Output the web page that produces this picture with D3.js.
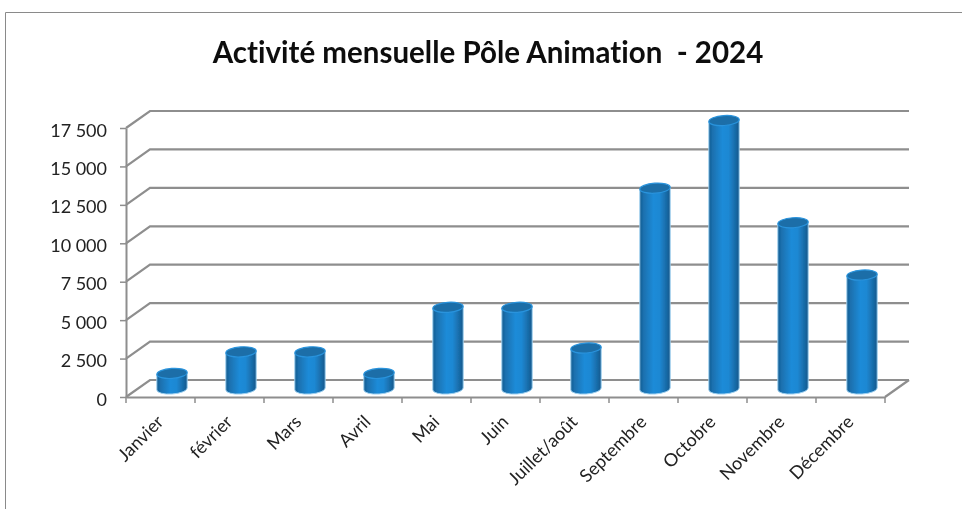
<!DOCTYPE html>
<html>
<head>
<meta charset="utf-8">
<script src="https://cdn.jsdelivr.net/npm/d3@7"></script>
<style>
  body { margin: 0; background: #fff; }
  svg { display: block; font-family: Lato, "Open Sans", sans-serif; font-variant-ligatures: none; }
  text { fill: #222; }
</style>
</head>
<body>
<svg id="chart" width="962" height="509"></svg>
<script>
var months = ["Janvier", "février", "Mars", "Avril", "Mai", "Juin", "Juillet/août", "Septembre", "Octobre", "Novembre", "Décembre"];
var activity = [950, 2350, 2350, 950, 5250, 5250, 2600, 13000, 17400, 10750, 7350];
var yTicks = [0, 2500, 5000, 7500, 10000, 12500, 15000, 17500];
var titleText = "Activité mensuelle Pôle Animation  - 2024";

var svg = d3.select("#chart");

// depth of the fake 3d box
var depthX = 24;
var depthY = -17;
var gridColor = "#8e8e8e";

var x = d3.scaleBand().domain(months).range([126, 885]);
var y = d3.scaleLinear().domain([0, 17500]).range([397, 128]);

function frenchNumber(d) {
    return d3.format(",")(d).replace(/,/g, "\u2005");
}

var defs = svg.append("defs");

// the reference is a slightly soft screenshot
defs.append("filter").attr("id", "soft")
    .append("feGaussianBlur").attr("stdDeviation", 0.35);

// gradient for the cylinders
var grad = defs.append("linearGradient").attr("id", "cyl").attr("x1", 0).attr("x2", 1).attr("y1", 0).attr("y2", 0);
[[0, "#165d92"], [0.12, "#1a70ae"], [0.45, "#1f8bd8"], [0.65, "#1f88d3"], [0.88, "#186aa6"], [1, "#14578b"]].forEach(function (s) {
    grad.append("stop").attr("offset", s[0]).attr("stop-color", s[1]);
});

var root = svg.append("g").attr("filter", "url(#soft)");

// outer frame, only top and left show in the crop
root.append("path")
    .attr("d", "M5.5,509V12.5H962")
    .attr("fill", "none")
    .attr("stroke", "#8a8a8a")
    .attr("stroke-width", 1);

root.append("text")
    .attr("x", 488)
    .attr("y", 63)
    .attr("text-anchor", "middle")
    .attr("font-size", 29.5)
    .attr("font-weight", 700)
    .style("fill", "#111")
    .attr("xml:space", "preserve")
    .text(titleText);

// walls: gridlines on the back and slants to the front axis
var grid = root.append("g")
    .attr("fill", "none")
    .attr("stroke", gridColor)
    .attr("stroke-width", 2.2);

grid.selectAll(".grid")
    .data(yTicks)
    .enter().append("path")
    .attr("class", "grid")
    .attr("d", function (d) {
        return "M" + x.range()[0] + "," + y(d) + "L" + (x.range()[0] + depthX) + "," + (y(d) + depthY) + "H" + (x.range()[1] + depthX);
    });

grid.append("path")
    .attr("d", "M" + x.range()[1] + "," + y(0) + "L" + (x.range()[1] + depthX) + "," + (y(0) + depthY));

// axes
var yAxis = d3.axisLeft(y).tickValues(yTicks).tickSize(6).tickPadding(13).tickSizeOuter(0).tickFormat(frenchNumber);
var gy = root.append("g").attr("transform", "translate(126,0)").call(yAxis);
gy.attr("font-family", "Lato");
gy.selectAll("text").attr("font-size", 18).attr("dy", "0.45em").style("fill", "#222");
gy.selectAll("line").attr("stroke", gridColor).attr("stroke-width", 1.5);
gy.select(".domain").attr("stroke", gridColor).attr("stroke-width", 2);

var xAxis = d3.axisBottom(x).tickSize(0).tickPadding(0).tickSizeOuter(0);
var gx = root.append("g").attr("transform", "translate(0,397)").call(xAxis);
gx.attr("font-family", "Lato");
gx.select(".domain").attr("stroke", gridColor).attr("stroke-width", 2.2);
gx.selectAll(".tick line").remove();
gx.selectAll(".sep")
    .data(months.concat(["end"]))
    .enter().append("line")
    .attr("class", "sep")
    .attr("x1", function (d, i) { return x.range()[0] + i * x.step(); })
    .attr("x2", function (d, i) { return x.range()[0] + i * x.step(); })
    .attr("y1", 0)
    .attr("y2", 6)
    .attr("stroke", gridColor)
    .attr("stroke-width", 1.5);
gx.selectAll(".tick text")
    .attr("font-size", 18)
    .attr("text-anchor", "end")
    .style("fill", "#222")
    .attr("dy", 0)
    .attr("transform", "translate(" + (x.step() * 0.06) + ",26) rotate(-45)");

// cylinders
var barW = x.bandwidth() * 0.44;
var rx = barW / 2;
var ry = 5;
var tilt = -4;
var baseY = y(0) + depthY / 2 - 0.5;
var centerOff = depthX / 2 - 0.5;

function barHeight(d) {
    return y(0) - y(d);
}

var bars = root.append("g").selectAll(".bar")
    .data(months.map(function (m, i) { return { month: m, value: activity[i] }; }))
    .enter().append("g")
    .attr("class", "bar")
    .attr("transform", function (d) {
        return "translate(" + (x(d.month) + x.bandwidth() / 2 + centerOff) + "," + baseY + ")";
    });

bars.append("path")
    .attr("fill", "url(#cyl)")
    .attr("stroke", "#9ed0f0")
    .attr("stroke-width", 1)
    .attr("d", function (d) {
        var h = barHeight(d.value);
        return "M" + (-rx) + "," + (-h + 1) + "V2A" + rx + "," + ry + " " + tilt + " 0 0 " + rx + ",0V" + (-h - 1) + "Z";
    });

bars.append("ellipse")
    .attr("rx", rx)
    .attr("ry", ry)
    .attr("transform", function (d) { return "translate(0," + (-barHeight(d.value)) + ") rotate(" + tilt + ")"; })
    .attr("fill", "#1b6ea8")
    .attr("stroke", "#2a93dc")
    .attr("stroke-width", 1.2);
</script>
</body>
</html>
